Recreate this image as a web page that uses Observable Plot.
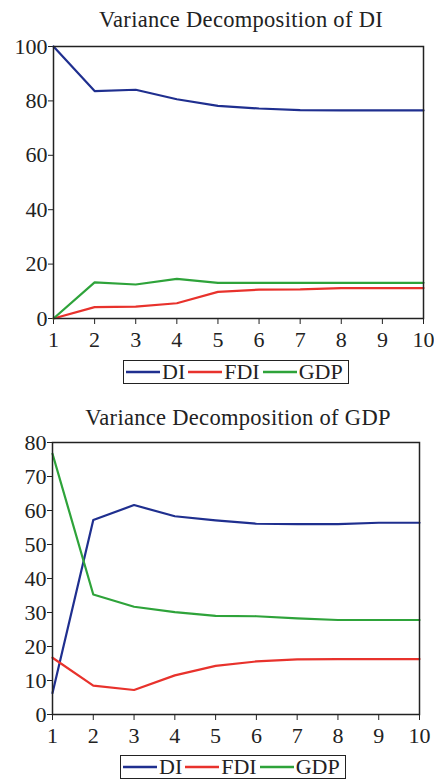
<!DOCTYPE html>
<html>
<head>
<meta charset="utf-8">
<script src="https://cdn.jsdelivr.net/npm/d3@7"></script>
<script src="https://cdn.jsdelivr.net/npm/@observablehq/plot@0.6"></script>
<style>
  html, body { margin: 0; padding: 0; background: #fff; }
  body { width: 434px; height: 781px; position: relative; overflow: hidden; font-family: "Liberation Serif", "DejaVu Serif", serif; }
  .title { position: absolute; white-space: nowrap; font-size: 22.5px; color: #222; letter-spacing: 0.3px; transform: translateX(-50%); }
  .chart { position: absolute; left: 0; }
  .chart svg { overflow: visible; }
  .chart svg text { font-family: "Liberation Serif", "DejaVu Serif", serif !important; }
  .legend { position: absolute; border: 1.5px solid #222; height: 24px; display: flex; align-items: center; font-size: 22px; color: #222; box-sizing: border-box; padding: 0 2px; }
  .legend .item { display: flex; align-items: center; margin-right: 3px; }
  .legend svg { display: block; margin-right: 2px; }
</style>
</head>
<body>
<div id="root"></div>
<script>
const periods = [1, 2, 3, 4, 5, 6, 7, 8, 9, 10];
const seriesNames = ["DI", "FDI", "GDP"];
const seriesColors = ["#1f2f8f", "#e8322c", "#2ea33a"];

// Variance Decomposition of DI
const di_DI  = [100, 83.6, 84.1, 80.6, 78.2, 77.2, 76.6, 76.5, 76.5, 76.5];
const di_FDI = [0, 4.2, 4.4, 5.6, 9.8, 10.6, 10.7, 11.2, 11.2, 11.2];
const di_GDP = [0, 13.3, 12.5, 14.6, 13.1, 13.1, 13.1, 13.1, 13.1, 13.1];

// Variance Decomposition of GDP
const gdp_DI  = [6.3, 57.2, 61.6, 58.3, 57.1, 56.1, 56.0, 56.0, 56.4, 56.4];
const gdp_FDI = [16.7, 8.5, 7.2, 11.5, 14.3, 15.6, 16.2, 16.3, 16.3, 16.3];
const gdp_GDP = [76.7, 35.3, 31.7, 30.1, 29.0, 28.9, 28.3, 27.8, 27.8, 27.8];

const yTicksTop = [0, 20, 40, 60, 80, 100];
const yTicksBottom = [0, 10, 20, 30, 40, 50, 60, 70, 80];

function rows(a, b, c) {
  const out = [];
  [a, b, c].forEach((vals, s) => periods.forEach((p, i) => out.push({period: p, value: vals[i], series: seriesNames[s]})));
  return out;
}

function makeChart({data, yDomain, yTicks, top, marginLeft, marginRight, title, titleTop, titleCenter, legendTop, legendLeft}) {
  const root = document.getElementById("root");
  const t = document.createElement("div");
  t.className = "title";
  t.style.top = titleTop + "px";
  t.style.left = titleCenter + "px";
  t.textContent = title;
  root.appendChild(t);

  const chart = Plot.plot({
    width: 434,
    height: 330,
    marginTop: 20,
    marginBottom: 38,
    marginLeft,
    marginRight,
    style: {fontFamily: "'Liberation Serif', serif", fontSize: "22px", color: "#222", background: "transparent", overflow: "visible"},
    x: {domain: [1, 10], ticks: periods, tickFormat: d3.format("d"), label: null, tickSize: 6, tickPadding: 7},
    y: {domain: yDomain, ticks: yTicks, label: null, tickSize: 5, tickPadding: 1},
    color: {domain: seriesNames, range: seriesColors},
    marks: [
      Plot.line(data, {x: "period", y: "value", stroke: "series", strokeWidth: 2.2}),
      Plot.frame({stroke: "#222", strokeWidth: 1.5})
    ]
  });
  const wrap = document.createElement("div");
  wrap.className = "chart";
  wrap.style.top = top + "px";
  wrap.appendChild(chart);
  root.appendChild(wrap);

  const lg = document.createElement("div");
  lg.className = "legend";
  lg.style.top = legendTop + "px";
  lg.style.left = legendLeft + "px";
  seriesNames.forEach((name, i) => {
    const it = document.createElement("div");
    it.className = "item";
    it.innerHTML = `<svg width="34" height="10"><line x1="0" x2="34" y1="5" y2="5" stroke="${seriesColors[i]}" stroke-width="2.5"/></svg><span>${name}</span>`;
    lg.appendChild(it);
  });
  root.appendChild(lg);
}

makeChart({
  data: rows(di_DI, di_FDI, di_GDP), yDomain: [0, 100], yTicks: yTicksTop,
  top: 26, marginLeft: 53, marginRight: 11,
  title: "Variance Decomposition of DI", titleTop: 7, titleCenter: 241, legendTop: 360, legendLeft: 123
});
makeChart({
  data: rows(gdp_DI, gdp_FDI, gdp_GDP), yDomain: [0, 80], yTicks: yTicksBottom,
  top: 422, marginLeft: 52, marginRight: 15,
  title: "Variance Decomposition of GDP", titleTop: 405, titleCenter: 238, legendTop: 755, legendLeft: 120
});
</script>
</body>
</html>
